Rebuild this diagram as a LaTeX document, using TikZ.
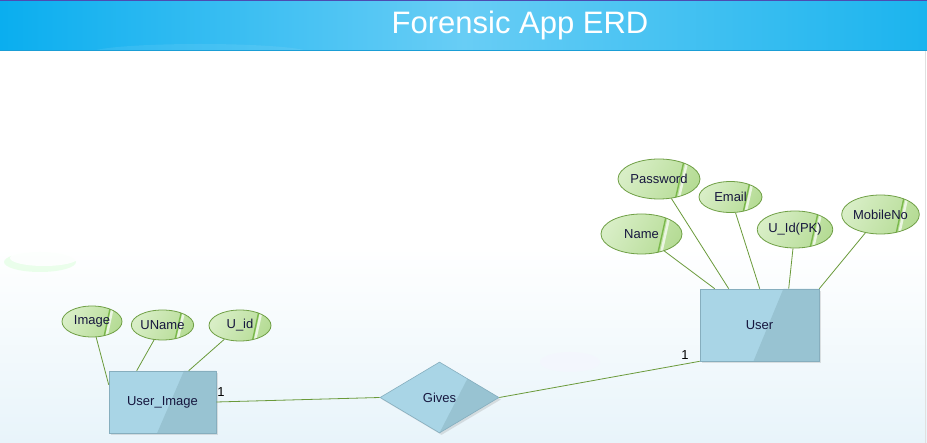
\documentclass[tikz,border=0pt]{standalone}
\usepackage{fontspec}
\setmainfont{Liberation Sans}
\usetikzlibrary{shapes.geometric,calc,shadows}
\definecolor{hdrA}{HTML}{0AAEEF}
\definecolor{hdrB}{HTML}{68CDF5}
\definecolor{hdrC}{HTML}{1BB4EE}
\definecolor{hdrline}{HTML}{1A9ED6}
\definecolor{bodybot}{HTML}{E8F4FA}
\definecolor{entfill}{HTML}{A9D5E6}
\definecolor{entdark}{HTML}{98C3D2}
\definecolor{entline}{HTML}{86AEBE}
\definecolor{attrA}{HTML}{D8EEC6}
\definecolor{attrB}{HTML}{B6DC96}
\definecolor{attrline}{HTML}{6F9F45}
\definecolor{attrstripe}{HTML}{6FB23D}
\definecolor{conn}{HTML}{6A9A3A}
\definecolor{labeltext}{HTML}{16163E}
\newcommand{\lbl}{\fontsize{13}{15}\selectfont}
\def\ppb{path picture bounding box}
\begin{document}
\begin{tikzpicture}[x=1pt,y=-1pt,
  entity/.style={rectangle, draw=entline, line width=.6pt, fill=entfill,
    inner sep=0pt, text=labeltext, font=\lbl,
    drop shadow={opacity=.22, shadow xshift=2pt, shadow yshift=-2pt},
    path picture={\fill[entdark] ($(\ppb.north west)!.70!(\ppb.north east)$) -- (\ppb.north east) -- (\ppb.south east) -- ($(\ppb.south west)!.45!(\ppb.south east)$) -- cycle;}},
  relation/.style={diamond, draw=entline, line width=.6pt, fill=entfill,
    inner sep=0pt, text=labeltext, font=\lbl,
    drop shadow={opacity=.22, shadow xshift=2pt, shadow yshift=-2pt},
    path picture={\fill[entdark] ($(\ppb.north)!.47!(\ppb.east)$) -- (\ppb.east) -- (\ppb.south) -- cycle;}},
  attr/.style={ellipse, draw=attrline, line width=.8pt, inner sep=0pt,
    left color=attrA, right color=attrB, shading angle=60,
    text=labeltext, font=\lbl,
    path picture={
      \draw[white, opacity=.7, line width=2.5pt] ($(\ppb.north west)!.85!(\ppb.north east)$) .. controls ($(\ppb.west)!.80!(\ppb.east)$) .. ($(\ppb.south west)!.74!(\ppb.south east)$);
      \draw[attrstripe, opacity=.85, line width=1.4pt] ($(\ppb.north west)!.81!(\ppb.north east)$) .. controls ($(\ppb.west)!.76!(\ppb.east)$) .. ($(\ppb.south west)!.70!(\ppb.south east)$);}},
  link/.style={draw=conn, line width=.8pt},
  card/.style={font=\lbl, text=black, inner sep=0pt}
]
\useasboundingbox (0,0) rectangle (927,443);
% body background
\shade[top color=white, bottom color=bodybot, middle color=white] (0,51) rectangle (927,443);
\draw[black!12, line width=.6pt] (925.5,51) -- (925.5,443);
% faint decorative shapes
\fill[green!25!white, opacity=.3] (40,262) ellipse (36pt and 10pt);
\fill[white, opacity=.9] (44,258) ellipse (34pt and 8pt);
\fill[blue!4!white, opacity=.5] (570,362) ellipse (30pt and 10pt);
% header
\shade[left color=hdrA, right color=hdrC, middle color=hdrB] (0,0) rectangle (927,51);
\begin{scope}
\clip (0,0) rectangle (927,51);
\fill[white, opacity=.08] (200,53) ellipse (110pt and 9pt);
\end{scope}
\draw[hdrline, line width=1pt] (0,50.5) -- (927,50.5);
\draw[blue!40!gray, line width=.8pt] (0,0.4) -- (927,0.4);
\node[text=white, font=\fontsize{31}{36}\selectfont, inner sep=0pt] (title) at (520,25) {Forensic App ERD};

% entities
\node[entity, minimum width=119pt, minimum height=72pt] (user) at (759.5,325) {User};
\node[entity, minimum width=107pt, minimum height=62pt] (ui) at (162.5,402) {User\_Image};
\node[relation, minimum width=119pt, minimum height=71pt] (gives) at (439.5,397.5) {Gives};

% attributes of User
\node[attr, minimum width=82pt, minimum height=40pt] (pw) at (659,179) {Password};
\node[attr, minimum width=63pt, minimum height=31pt] (email) at (730.5,197) {Email};
\node[attr, minimum width=81pt, minimum height=40pt] (name) at (641.5,234) {Name};
\node[attr, minimum width=72pt, minimum height=37pt] (uidpk) at (795,229.5) {U\_Id(PK)};
\node[attr, minimum width=77pt, minimum height=39pt] (mobile) at (880.5,214.5) {MobileNo};

% attributes of User_Image
\node[attr, minimum width=60pt, minimum height=31pt] (image) at (92,321.5) {Image};
\node[attr, minimum width=61pt, minimum height=30pt] (uname) at (162.5,325) {UName};
\node[attr, minimum width=62pt, minimum height=31pt] (uid) at (240,325.5) {U\_id};

% attachment points on entities
\coordinate (uN1) at ($(user.north west)+(15,0)$);
\coordinate (uN2) at ($(user.north west)+(29,0)$);
\coordinate (uN3) at ($(user.north west)+(60,0)$);
\coordinate (uN4) at ($(user.north west)+(89,0)$);
\coordinate (uN5) at (user.north east);
\coordinate (iW) at ($(ui.north west)+(0,14)$);
\coordinate (iN1) at ($(ui.north west)+(28,0)$);
\coordinate (iN2) at ($(ui.north west)+(80,0)$);

% attribute links
\draw[link] (name) -- (uN1);
\draw[link] (pw) -- (uN2);
\draw[link] (email) -- (uN3);
\draw[link] (uidpk) -- (uN4);
\draw[link] (mobile) -- (uN5);
\draw[link] (image) -- (iW);
\draw[link] (uname) -- (iN1);
\draw[link] (uid) -- (iN2);

% relationship links
\draw[link] (ui.east) -- (gives.west);
\draw[link] (gives.east) -- (user.south west);
\node[card] (c1) at (221,392) {1};
\node[card] (c2) at (685,355) {1};
\end{tikzpicture}
\end{document}
